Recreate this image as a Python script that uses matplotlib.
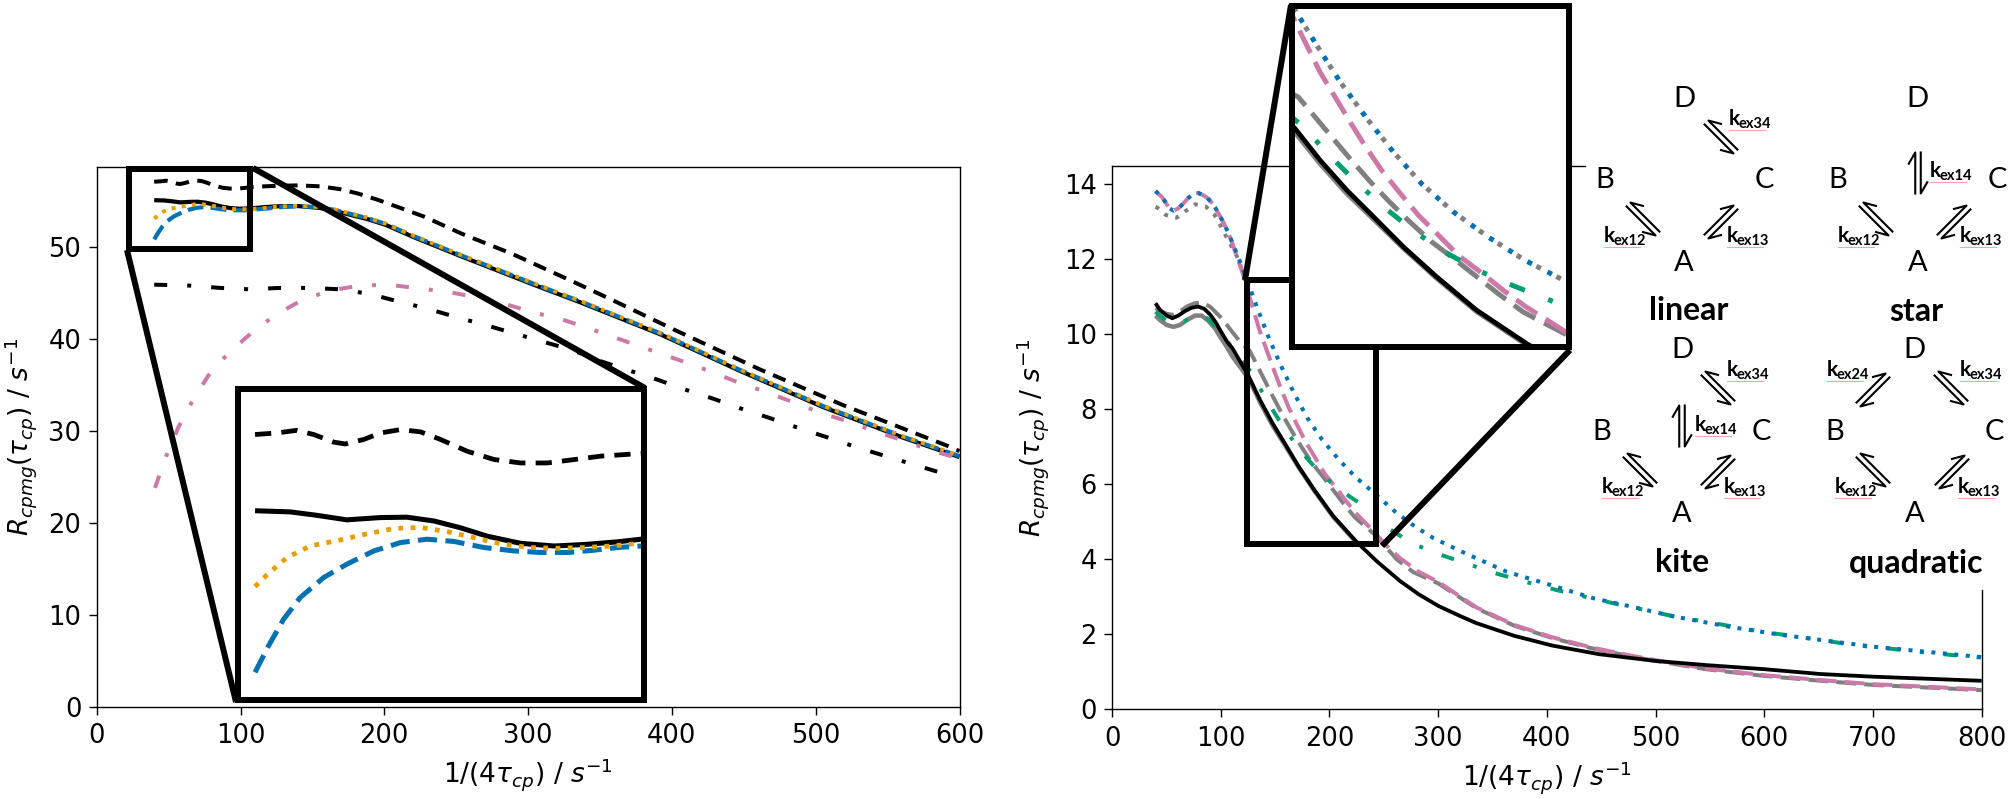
import numpy as np
import matplotlib
matplotlib.use("Agg")
import matplotlib.pyplot as plt
from matplotlib.lines import Line2D
from matplotlib.patches import Rectangle

W, H = 2010, 799
BLUE, ORANGE, PINK, GREEN, GRAY = "#0072B2", "#E69F00", "#CC79A7", "#009E73", "#808080"

# ---------- left panel data ----------
dash_x = [40,44.3,48.3,51.7,55.7,58,61.7,65,69,73,77,82.3,87.7,93,98.3,103.7,109,117,125,140,155,169,182,196,212,227.7,254.5,289,331.7,359,403,461,519,592,600]
dash_y = [57.1,57.14,57.21,57.1,56.9,56.85,56.97,57.14,57.23,57.17,56.97,56.66,56.44,56.35,56.35,56.44,56.53,56.6,56.65,56.7,56.6,56.3,55.8,55.1,54.2,53.3,51.4,49.25,46.2,44.2,40.9,36.7,32.8,28.35,27.8]
solid_x = [40,47,52.3,58.3,65,70.3,75.7,81,86.3,93,99.7,105.7,112.3,117,125,140,155,165,175,188,201,220,254,308,336,392,447,505,561,600]
solid_y = [55.09,55.06,54.97,54.85,54.91,54.92,54.82,54.64,54.42,54.23,54.16,54.2,54.27,54.34,54.42,54.45,54.25,53.95,53.55,53.05,52.4,51.1,48.95,45.65,44.0,40.5,36.55,32.6,29.25,27.15]
orange_x = [40,42.3,46.3,51,57,62.3,67.7,73,78.3,83.7,89,94.7,100,105.7,111,116.7,125,140,155,165,175,188,201,220,254,308,336,392,447,505,561,600]
orange_y = [53.09,53.39,53.85,54.16,54.32,54.48,54.62,54.65,54.54,54.38,54.22,54.12,54.1,54.12,54.16,54.23,54.38,54.48,54.35,54.1,53.7,53.2,52.55,51.25,49.1,45.8,44.15,40.65,36.7,32.75,29.4,27.3]
blue_l_x = [40,42.7,45.7,49,53.7,58.3,63.7,69,74.3,79.7,85.7,91.7,97,102.3,107.7,112.3,117,125,140,155,165,175,188,201,220,254,308,336,392,447,505,561,600]
blue_l_y = [50.83,51.53,52.23,52.8,53.33,53.68,54.03,54.25,54.34,54.28,54.12,54.03,53.99,53.99,54.05,54.12,54.16,54.3,54.45,54.3,54.05,53.65,53.15,52.5,51.2,49.05,45.75,44.1,40.6,36.65,32.7,29.35,27.25]
pinkl_x = [40.5,48.7,56.8,66.7,77.6,91.8,107.3,124.2,142.5,162,182.6,202.8,224,245,265,286,306,326,345,365,385,405,424.5,444,464,483,503,522.7,542,562,581.7,600]
pinkl_y = [23.8,27.4,30.4,33.3,36,38.5,40.6,42.6,44.2,45.25,45.8,45.9,45.5,45.1,44.5,43.7,42.8,42,41,39.9,38.8,37.7,36.6,35.4,34.3,33.2,32,31,29.9,28.9,27.8,27.0]
dd_x = [40,65,85.7,106,127.5,148,169,189.6,209.2,229.7,250.6,270.5,290.5,310.4,330.4,350,369.7,389.4,409,428.7,448.5,468,488.4,508,527.8,547.7,567.9,588]
dd_y = [45.9,45.8,45.55,45.4,45.55,45.55,45.4,44.9,44.1,43.3,42.35,41.5,40.6,39.7,38.8,37.6,36.6,35.6,34.5,33.5,32.4,31.4,30.3,29.3,28.25,27.3,26.35,25.4]

# ---------- right panel data ----------
pink_x = [40,45.7,48.8,52.8,56.4,61,65.6,70.2,74.8,79.4,84,88,91.7,95.4,98.4,102.4,106.4,109.5,120.8,126,130.3,136,142.5,148.9,155.4,162.5,170,178.3,186.9,195.5,207.6,214.8,224.8,234.8,240.6,252.7,265,282,300,335,370,405,441,476,500,546,600,652,700,758,800]
pink_y = [13.82,13.67,13.54,13.36,13.3,13.36,13.49,13.64,13.74,13.77,13.71,13.63,13.51,13.36,13.2,12.99,12.74,12.53,11.58,11.05,10.63,10.08,9.56,9.05,8.55,8.05,7.6,7.12,6.71,6.29,5.85,5.57,5.22,4.92,4.74,4.36,4.03,3.67,3.4,2.72,2.25,1.92,1.65,1.44,1.31,1.09,.91,.78,.67,.59,.53]
grayd_x = [40,45,50.3,56,62,68.7,76,82.5,90.2,100.9,111.6,119,126.7,133.2,141,148.9,157.1,165.8,174.7,184,193.6,202.6,212.6,223.4,234.1,241.3,262,277,300,335,370,405,441,476,500,546,600,652,700,758,800]
grayd_y = [10.7,10.62,10.55,10.52,10.6,10.74,10.83,10.85,10.74,10.43,10.03,9.76,9.56,9.19,8.74,8.29,7.84,7.4,6.98,6.57,6.22,5.88,5.5,5.12,4.85,4.67,4.0,3.66,3.36,2.7,2.23,1.9,1.63,1.42,1.29,1.07,.89,.76,.65,.57,.51]
black_x = [40,44.2,50.3,55.5,61,67.1,73.3,79.4,84.9,90.2,95.4,100.3,105.5,110.7,125.3,136,147.5,159,171.8,186.1,203.3,224.8,243.5,265,282,300,320,335,370,405,448,500,546,600,652,700,800]
black_y = [10.83,10.65,10.5,10.43,10.5,10.62,10.71,10.74,10.68,10.53,10.32,10.07,9.82,9.63,8.91,8.26,7.64,7.09,6.47,5.85,5.16,4.47,3.95,3.42,3.07,2.76,2.49,2.3,1.96,1.7,1.47,1.29,1.18,1.07,.94,.87,.76]
grays_x = [40,44.2,50.3,56.4,62.6,68.7,76.4,82.5,88.7,94.8,99.4,105.5,111,125.3,136,147.5,159,171.8,186.1,203.3,224.8]
grays_y = [10.5,10.38,10.25,10.2,10.25,10.38,10.5,10.5,10.36,10.16,9.94,9.67,9.4,8.84,8.2,7.58,7.05,6.45,5.83,5.14,4.45]
green_x = [40,44.2,50,56,62,68.7,76,82,88,93.2,100,110.7,128.9,140,151.5,163.7,176.4,189.7,204,218.8,234.1,243.4,252.7,277,303.5,330,356,383,409,437,464,490,518,546,574,602,630,656,683,712,740,768,800]
green_y = [10.6,10.5,10.36,10.28,10.3,10.38,10.5,10.52,10.42,10.27,9.98,9.65,8.95,8.36,7.81,7.28,6.79,6.36,5.98,5.67,5.38,5.19,4.85,4.41,4.11,3.85,3.6,3.38,3.18,2.99,2.81,2.65,2.47,2.34,2.19,2.05,1.94,1.83,1.71,1.63,1.54,1.46,1.38]
bluer_x = [40,45.7,48.8,52.8,56.4,61,65.6,70.2,74.8,79.4,84,88,91.7,95.4,98.4,102.4,106.4,109.5,119,125.3,134.6,144.6,156.1,167.5,179.7,193.3,208.3,224.1,240.6,262,279,296,325,363,413,443,476,518,568,617,652,700,758,800]
bluer_y = [13.82,13.67,13.54,13.36,13.3,13.36,13.49,13.64,13.74,13.77,13.71,13.63,13.51,13.36,13.2,12.99,12.74,12.53,11.85,11.36,10.63,9.88,9.12,8.43,7.77,7.19,6.67,6.19,5.78,5.23,4.87,4.56,4.16,3.67,3.23,2.96,2.75,2.47,2.2,1.98,1.85,1.67,1.51,1.39]
grayt_x = [40,41.7,49.7,59.5,67.8,76.4,86.2,94,99.3,103.9,115,122,125.3,134.6,144.6,156.1,167.5,179.7,193.3,208.3,224.1,240.6,262,279,296,325,363,413,443,476,518,568,617,652,700,758,800]
grayt_y = [13.4,13.38,13.18,13.11,13.29,13.47,13.41,13.2,12.93,12.67,12.07,11.55,11.36,10.63,9.88,9.12,8.43,7.77,7.19,6.67,6.19,5.78,5.23,4.87,4.56,4.16,3.67,3.23,2.96,2.75,2.47,2.2,1.98,1.85,1.67,1.51,1.39]
MAIN_GRAYT_POINTS = 12   # the rest of this curve sits exactly beneath the blue one in the main panel

xticks_left = [0,100,200,300,400,500,600]
yticks_left = [0,10,20,30,40,50]
xticks_right = [0,100,200,300,400,500,600,700,800]
yticks_right = [0,2,4,6,8,10,12,14]
XLABEL = r"$1/(4\tau_{cp})\ /\ s^{-1}$"
YLABEL = r"$R_{cpmg}(\tau_{cp})\ /\ s^{-1}$"

# ---------- schematic text ----------
PANELS = [
    ("linear", (1689,311), {"D":(1684,99),"B":(1605,180),"C":(1764,180),"A":(1684,263)}),
    ("star", (1916,312), {"D":(1917,99),"B":(1838,180),"C":(1997,180),"A":(1918,263)}),
    ("kite", (1682,562), {"D":(1682,350),"B":(1602,432),"C":(1761,432),"A":(1682,514)}),
    ("quadratic", (1916,563), {"D":(1914,350),"B":(1835,432),"C":(1994,432),"A":(1915,514)}),
]
KLABELS = [
    ("ex34",1729,125),("ex12",1604,242),("ex13",1727,242),
    ("ex14",1930,177),("ex12",1838,242),("ex13",1960,242),
    ("ex34",1727,376),("ex14",1695,431),("ex12",1602,493),("ex13",1724,493),
    ("ex24",1827,376),("ex34",1960,376),("ex12",1835,493),("ex13",1958,493),
]
# centre x, centre y, direction angle
HARPOONS = [
    (1721,137,-45),(1643,219,-45),(1721,222,45),
    (1876,219,-45),(1954,222,45),(1918,173,90),
    (1718,388,-45),(1640,470,-45),(1718,472,45),(1682,426,90),
    (1873,390,45),(1951,388,-45),(1873,470,-45),(1952,472,45),
]

plt.rcParams.update({"lines.scale_dashes": False, "font.family": "DejaVu Sans",
                     "mathtext.fontset": "dejavusans", "axes.linewidth": 1.0})
fig = plt.figure(figsize=(W/100, H/100), dpi=100, facecolor="white")

def fx(x): return x / W
def fy(y): return 1 - y / H
def pt(px): return px * 0.72
def ls(*pxs, off=0): return (pt(off), tuple(pt(p) for p in pxs))
def axes_px(l, t, r, b, **kw):
    return fig.add_axes([fx(l), fy(b), fx(r) - fx(l), (b - t) / H], **kw)

def style(ax, xt, yt, ypad):
    ax.set_xticks(xt); ax.set_yticks(yt)
    ax.tick_params(length=5.5, width=1.0, labelsize=18.5)
    ax.tick_params(axis="x", pad=6.5)
    ax.tick_params(axis="y", pad=5.5)
    ax.set_xlabel(XLABEL, fontsize=19, labelpad=5)
    ax.set_ylabel(YLABEL, fontsize=19, labelpad=ypad)
    for s in ax.spines.values():
        s.set_linewidth(1.0)

def left_curves(ax, k=1.0):
    c = dict(solid_capstyle="butt", dash_capstyle="butt")
    ax.plot(dash_x, dash_y, color="k", lw=pt(4*k), ls=ls(13.5*k, 8.5*k), **c)
    ax.plot(solid_x, solid_y, color="k", lw=pt(4.2*k), **c)
    ax.plot(blue_l_x, blue_l_y, color=BLUE, lw=pt(4.2*k), ls=ls(16*k, 7*k), **c)
    ax.plot(orange_x, orange_y, color=ORANGE, lw=pt(4*k), ls=ls(4*k, 6.2*k), **c)

def right_curves(ax, k=1.0, inset=False):
    c = dict(solid_capstyle="butt", dash_capstyle="butt")
    n = len(grayt_x) if inset else MAIN_GRAYT_POINTS
    dot = ls(4*k, 14*k) if inset else ls(4*k, 7.5*k)
    dot2 = ls(4*k, 14*k, off=9*k) if inset else ls(4*k, 7.5*k)
    ax.plot(grays_x, grays_y, color=GRAY, lw=pt(4.5*k), **c)
    ax.plot(grayd_x, grayd_y, color=GRAY, lw=pt(4*k), ls=ls(20*k, 8*k), **c)
    ax.plot(grayt_x[:n], grayt_y[:n], color=GRAY, lw=pt(4*k), ls=dot2, **c)
    ax.plot(pink_x, pink_y, color=PINK, lw=pt(4*k), ls=ls(20*k, 8*k), **c)
    ax.plot(green_x, green_y, color=GREEN, lw=pt(4*k), ls=ls(13*k, 20*k, 4*k, 20*k), **c)
    ax.plot(bluer_x, bluer_y, color=BLUE, lw=pt(4*k), ls=dot, **c)
    ax.plot(black_x, black_y, color="k", lw=pt(3.8*k), **c)

BOX = 6
# ---------- left ----------
axL = axes_px(96.7, 167, 959.5, 706.7)
left_curves(axL)
axL.plot(pinkl_x, pinkl_y, color=PINK, lw=pt(4), ls=ls(13, 20, 4, 20), dash_capstyle="butt")
axL.plot(dd_x, dd_y, color="k", lw=pt(4), ls=ls(13, 20, 4, 20), dash_capstyle="butt")
axL.set_xlim(0, 600); axL.set_ylim(0, 58.7)
style(axL, xticks_left, yticks_left, 7)
axL.add_patch(Rectangle((22.8, 49.8), 84, 8.7, fill=False, ec="k", lw=pt(BOX), clip_on=False, zorder=6))

inL = axes_px(237.5, 389, 643.5, 700, zorder=4)
left_curves(inL, 1.2)
inL.set_xlim(36.5, 117.5); inL.set_ylim(50.1, 58.3)
inL.set_xticks([]); inL.set_yticks([])
for s in inL.spines.values(): s.set_linewidth(pt(BOX))

# ---------- right ----------
axR = axes_px(1112, 166, 1981.7, 709.3)
right_curves(axR)
axR.set_xlim(0, 800); axR.set_ylim(0, 14.49)
style(axR, xticks_right, yticks_right, 9)
axR.spines["top"].set_bounds(0, 435)
axR.spines["right"].set_bounds(0, 3.18)
axR.add_patch(Rectangle((124, 4.4), 119, 7.05, fill=False, ec="k", lw=pt(BOX), clip_on=False, zorder=6))

inR = axes_px(1292, 5.5, 1569, 347, zorder=4)
right_curves(inR, 1.25, inset=True)
inR.set_xlim(124, 243); inR.set_ylim(4.4, 11.45)
inR.set_xticks([]); inR.set_yticks([])
for s in inR.spines.values(): s.set_linewidth(pt(BOX))

# ---------- connectors ----------
for (x0, y0, x1, y1) in [(253,168,645,388),(127,250,236,702),(1245,280,1291,5),(1382,546,1570,350)]:
    fig.add_artist(Line2D([fx(x0), fx(x1)], [fy(y0), fy(y1)], color="k", lw=pt(BOX),
                          solid_capstyle="butt", zorder=5))

# ---------- schematics ----------
SF = "Lato"
for name, (nx, ny), letters in PANELS:
    fig.text(fx(nx), fy(ny), name, fontsize=23, fontweight="bold", family=SF, ha="center", va="center", zorder=7)
    for ch, (x, y) in letters.items():
        fig.text(fx(x), fy(y), ch, fontsize=21, family=SF, ha="center", va="center", zorder=7)
for sub, x, y in KLABELS:
    fig.text(fx(x), fy(y), "k", fontsize=15, fontweight="bold", family=SF, ha="left", va="baseline", zorder=7)
    fig.text(fx(x + 9), fy(y + 3), sub, fontsize=10.5, fontweight="bold", family=SF, ha="left", va="baseline", zorder=7)
    fig.add_artist(Line2D([fx(x), fx(x + 36)], [fy(y + 5), fy(y + 5)], color="#F2A8A8", lw=0.8, zorder=6))

def harpoon(cx, cy, ang, L=41, sep=5.5, barb=13):
    a = np.deg2rad(ang)
    d = np.array([np.cos(a), -np.sin(a)])
    n = np.array([d[1], -d[0]])          # left of travel on screen
    side = 1 if ang > 0 else -1
    t = np.deg2rad(30)
    for sgn in (1, -1):
        outer = n * sgn * side
        c = np.array([cx, cy]) + outer * sep / 2
        start, end = c - d * sgn * L / 2, c + d * sgn * L / 2
        tip = end + (-d * sgn * np.cos(t) + outer * np.sin(t)) * barb
        xs = [start[0], end[0], tip[0]]
        ys = [start[1], end[1], tip[1]]
        fig.add_artist(Line2D([fx(v) for v in xs], [fy(v) for v in ys], color="k", lw=1.5, zorder=7))

for h in HARPOONS:
    harpoon(*h)

fig.savefig("out.png", dpi=100)
